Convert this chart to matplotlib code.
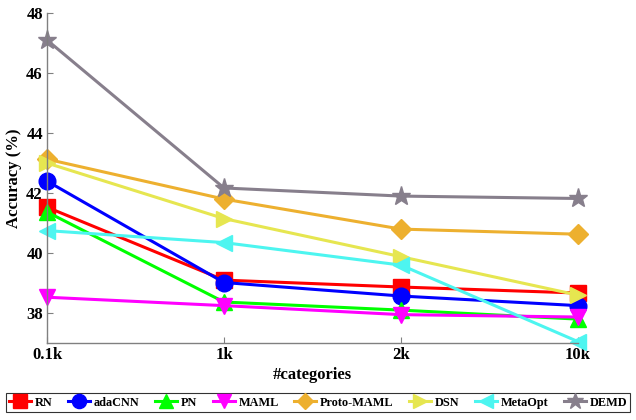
import matplotlib
matplotlib.use("Agg")
import matplotlib.pyplot as plt

categories = ["0.1k", "1k", "2k", "10k"]

rn = [41.53, 39.10, 38.87, 38.67]
adacnn = [42.40, 39.02, 38.57, 38.25]
pn = [41.37, 38.37, 38.10, 37.80]
maml = [38.53, 38.25, 37.95, 37.87]
proto_maml = [43.13, 41.80, 40.80, 40.63]
dsn = [43.00, 41.15, 39.88, 38.60]
metaopt = [40.75, 40.35, 39.60, 37.05]
demd = [47.10, 42.17, 41.90, 41.82]

series = [
    ("RN", rn, "#ff0000", "s"),
    ("adaCNN", adacnn, "#0000ff", "o"),
    ("PN", pn, "#00ff00", "^"),
    ("MAML", maml, "#ff00ff", "v"),
    ("Proto-MAML", proto_maml, "#edb02f", "D"),
    ("DSN", dsn, "#e6e650", ">"),
    ("MetaOpt", metaopt, "#4df5f0", "<"),
    ("DEMD", demd, "#877f8c", "*"),
]

plt.rcParams["font.family"] = ["Liberation Serif", "DejaVu Serif"]
plt.rcParams["font.weight"] = "bold"

fig = plt.figure(figsize=(6.36, 4.2), dpi=100)
ax = fig.add_axes([0.0739, 0.183, 0.835, 0.786])

x = list(range(len(categories)))
for name, vals, color, marker in series:
    ms = 14 if marker == "*" else 12
    if marker == "D":
        ms = 10
    ax.plot(x, vals, color=color, marker=marker, markersize=ms, linewidth=2.2,
            label=name, clip_on=False)

ax.set_xlim(0, 3)
ax.set_ylim(37, 48)
ax.set_xticks(x)
ax.set_xticklabels(categories)
ax.set_yticks([38, 40, 42, 44, 46, 48])
ax.tick_params(direction="in", color="#808080", labelsize=12, length=4, pad=3)
for lbl in ax.get_xticklabels() + ax.get_yticklabels():
    lbl.set_fontweight("bold")
ax.spines["top"].set_visible(False)
ax.spines["right"].set_visible(False)
for s in ("left", "bottom"):
    ax.spines[s].set_color("#808080")
    ax.spines[s].set_linewidth(1.0)

ax.set_xlabel("#categories", fontsize=12, fontweight="bold", labelpad=3)
ax.set_ylabel("Accuracy (%)", fontsize=12, fontweight="bold", labelpad=3)

leg = fig.legend(loc="lower center", bbox_to_anchor=(0.5, 0.02), ncol=8,
                 frameon=True, fancybox=False, edgecolor="black",
                 handlelength=1.8, handletextpad=0.3, columnspacing=1.28,
                 borderpad=0.25, borderaxespad=0.0, markerscale=0.85,
                 prop={"weight": "bold", "size": 8.8})
leg.get_frame().set_linewidth(0.8)

fig.savefig("out.png", dpi=100)
